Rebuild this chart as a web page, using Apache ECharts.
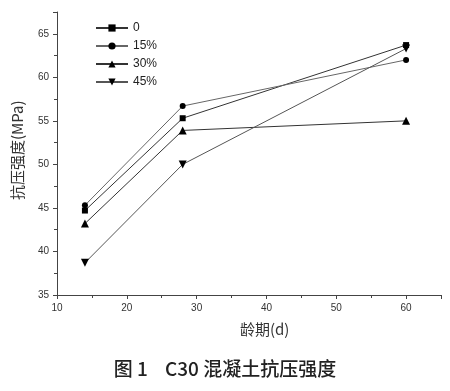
<!DOCTYPE html>
<html><head><meta charset="utf-8">
<script src="https://cdn.jsdelivr.net/npm/echarts@6/dist/echarts.min.js"></script>
<style>html,body{margin:0;padding:0;background:#fff}#c{width:450px;height:391px}</style>
</head><body><div id="c"></div>
<script>
const ages = [14, 28, 60];
const seriesNames = ['0', '15%', '30%', '45%'];
const s0 = [44.7, 55.3, 63.7];
const s15 = [45.3, 56.7, 62.0];
const s30 = [43.2, 53.9, 55.0];
const s45 = [38.7, 50.0, 63.3];
const yName = '抗压强度(MPa)';
const xName = '龄期(d)';
const caption = '图 1    C30 混凝土抗压强度';

const values = [s0, s15, s30, s45];
const symbols = ['rect', 'circle', 'triangle', 'triangle'];
const rotates = [0, 0, 0, 180];
const sizes = [6, 6, 8, 8];
const lineColors = ['#333', '#666', '#333', '#555'];

const chart = echarts.init(document.getElementById('c'));
chart.setOption({
  animation: false,
  grid: {left: 57, right: 9, top: 12, bottom: 96},
  legend: {
    orient: 'vertical', left: 90, top: 17, itemGap: 6, itemWidth: 32, itemHeight: 9,
    textStyle: {fontFamily: 'Liberation Sans, Arial', fontSize: 12, color: '#222'},
    data: seriesNames
  },
  xAxis: {
    type: 'value', min: 10, max: 65, interval: 10,
    axisLine: {show: true, lineStyle: {color: '#444'}},
    axisTick: {show: true, length: 4, lineStyle: {color: '#444'}},
    minorTick: {show: true, splitNumber: 2, length: 3, lineStyle: {color: '#444'}},
    splitLine: {show: false},
    axisLabel: {fontFamily: 'Liberation Sans, Arial', fontSize: 10, color: '#333', margin: 8,
      formatter: v => (v > 60 ? '' : v)}
  },
  yAxis: {
    type: 'value', min: 35, max: 67.5, interval: 5,
    axisLine: {show: true, lineStyle: {color: '#444'}},
    axisTick: {show: true, length: 4, lineStyle: {color: '#444'}},
    minorTick: {show: true, splitNumber: 2, length: 3, lineStyle: {color: '#444'}},
    splitLine: {show: false},
    axisLabel: {fontFamily: 'Liberation Sans, Arial', fontSize: 10, color: '#333', margin: 8,
      formatter: v => (v > 65 ? '' : v)}
  },
  series: values.map((vals, i) => ({
    name: seriesNames[i], type: 'line',
    data: ages.map((a, j) => [a, vals[j]]),
    symbol: symbols[i], symbolRotate: rotates[i], symbolSize: sizes[i],
    showAllSymbol: true,
    lineStyle: {color: lineColors[i], width: 1},
    itemStyle: {color: '#000'}
  })),
  graphic: [
    {type: 'text', left: 240, top: 322, style: {text: xName, font: '15px "Noto Sans CJK SC", serif', fill: '#333'}},
    {type: 'text', x: 10, y: 200, rotation: Math.PI / 2, style: {text: yName, font: '15px "Noto Sans CJK SC", serif', fill: '#333'}},
    {type: 'text', left: 'center', top: 359, style: {text: caption, font: '500 19px "Noto Sans CJK SC"', fill: '#222'}}
  ]
});
</script></body></html>
